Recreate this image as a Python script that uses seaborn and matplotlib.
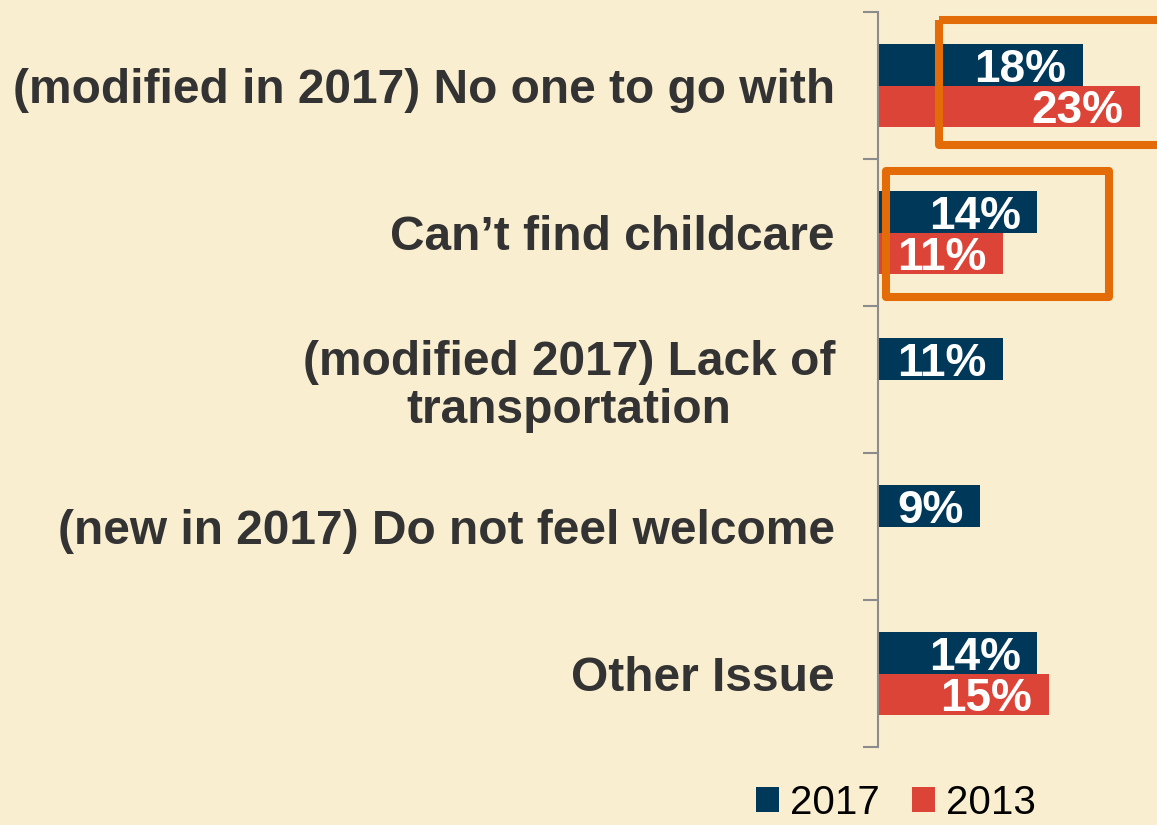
import numpy as np
import pandas as pd
import matplotlib
matplotlib.use("Agg")
import matplotlib.pyplot as plt
import seaborn as sns
from matplotlib.patches import Rectangle

# ---- data ----
categories = [
    "(modified in 2017) No one to go with",
    "Can\u2019t find childcare",
    "(modified 2017) Lack of\ntransportation",
    "(new in 2017) Do not feel welcome",
    "Other Issue",
]
years = ["2017", "2013"]
values_2017 = [18, 14, 11, 9, 14]
values_2013 = [23, 11, np.nan, np.nan, 15]

df = pd.DataFrame({
    "category": categories * 2,
    "year": [years[0]] * len(categories) + [years[1]] * len(categories),
    "value": values_2017 + values_2013,
})

# ---- style ----
BG = "#FAEED0"
NAVY = "#00385A"
RED = "#DB4437"
ORANGE = "#E36C09"
GRAY = "#8C8C8C"

sns.set_theme(style="white")
plt.rcParams["font.family"] = ["Liberation Sans", "DejaVu Sans"]

fig = plt.figure(figsize=(11.57, 8.25), dpi=100, facecolor=BG)
ax = fig.add_axes([878 / 1157, 78 / 825, 279 / 1157, 735 / 825])
ax.set_facecolor(BG)

sns.barplot(data=df, y="category", x="value", hue="year", hue_order=years,
            order=categories, palette=[NAVY, RED], orient="h", width=0.57,
            saturation=1, errorbar=None, linewidth=0, ax=ax)

ax.set_xlim(0, 24.5)
ax.set_ylim(4.5, -0.5)

# value labels inside bars
for bar in ax.patches:
    w = bar.get_width()
    if not np.isfinite(w) or w <= 0:
        continue
    ax.annotate(f"{w:.0f}%", xy=(w, bar.get_y() + bar.get_height() / 2),
                xytext=(-12, 0), textcoords="offset points",
                ha="right", va="center_baseline", color="white",
                fontsize=33, fontweight="bold")

# axes styling
for side in ["top", "right", "bottom"]:
    ax.spines[side].set_visible(False)
ax.spines["left"].set_color(GRAY)
ax.spines["left"].set_linewidth(1.5)
ax.set_xticks([])
ax.set_xlabel("")
ax.set_ylabel("")
ax.tick_params(axis="y", which="major", length=0, pad=31,
               labelsize=34.5, labelcolor="#333333")
ax.set_yticks(np.arange(-0.5, len(categories), 1), minor=True)
ax.tick_params(axis="y", which="minor", left=True, length=11, width=1.5,
               color=GRAY)
for t in ax.get_yticklabels():
    t.set_fontweight("bold")
    t.set_multialignment("center")
    t.set_linespacing(1.1)

# highlight boxes
box_kw = dict(fill=False, edgecolor=ORANGE, linewidth=5.8, joinstyle="round",
              clip_on=False, zorder=5)
ax.add_patch(Rectangle((5.39, -0.446), 20, 0.85, **box_kw))
ax.add_patch(Rectangle((0.66, 0.582), 19.6, 0.86, **box_kw))

# legend
sns.move_legend(ax, loc="center", bbox_to_anchor=(896 / 1157, 1 - 803 / 825),
                bbox_transform=fig.transFigure, ncol=2, frameon=False,
                title=None, fontsize=29, handlelength=0.57, handleheight=0.57,
                handletextpad=0.27, columnspacing=0.8)
for txt in ax.get_legend().get_texts():
    txt.set_color("black")

fig.savefig("out.png", dpi=100, facecolor=BG)
